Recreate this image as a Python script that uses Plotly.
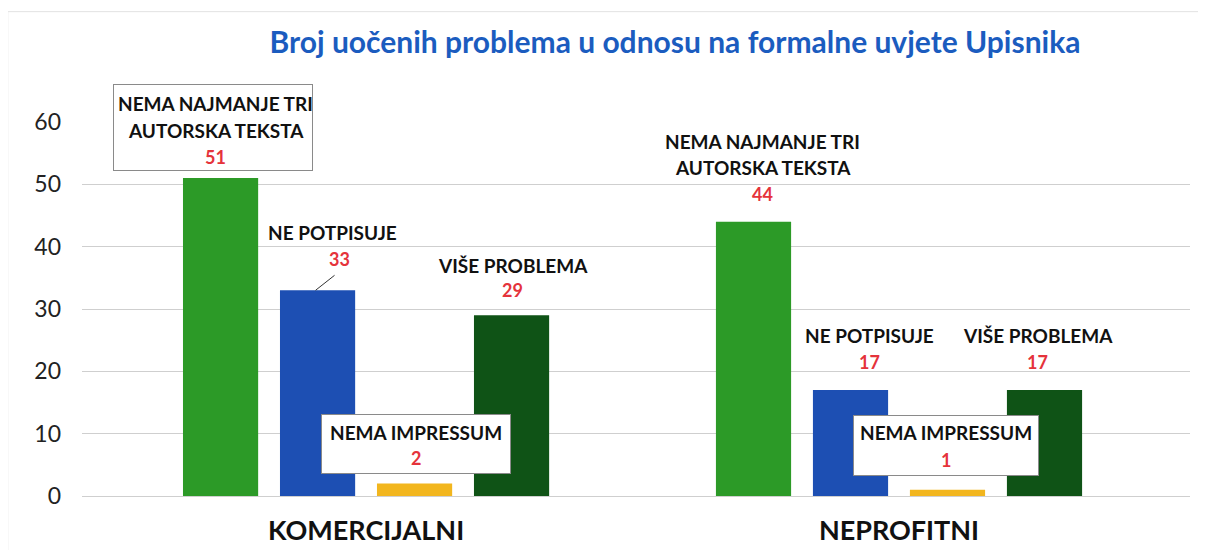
import plotly.graph_objects as go

categories = ["KOMERCIJALNI", "NEPROFITNI"]
series_names = ["NEMA NAJMANJE TRI AUTORSKA TEKSTA", "NE POTPISUJE", "NEMA IMPRESSUM", "VIŠE PROBLEMA"]
label_lines = [["NEMA NAJMANJE TRI", "AUTORSKA TEKSTA"], ["NE POTPISUJE"], ["NEMA IMPRESSUM"], ["VIŠE PROBLEMA"]]
nema_tri = [51, 44]
ne_potpisuje = [33, 17]
nema_impressum = [2, 1]
vise_problema = [29, 17]
values = [nema_tri, ne_potpisuje, nema_impressum, vise_problema]
y_ticks = [0, 10, 20, 30, 40, 50, 60]

colors = ["#2c9a27", "#1d4fb3", "#f2b61e", "#0f5316"]
RED = "#e5333b"
FONT = "Lato"

BARGAP = 0.272
GROUPGAP = 0.225
slot = (1 - BARGAP) / 4

fig = go.Figure()
for i, name in enumerate(series_names):
    fig.add_trace(go.Bar(x=categories, y=values[i], name=name, marker_color=colors[i],
                         marker_line_width=0, showlegend=False))

# label layout: (group, series) -> text xshift, line shifts above bar top (px), box (w, h, yshift, xshift)
label_style = {
    (0, 0): dict(dx=-5, shifts=[75, 48, 21], box=(200, 87, 51, -8)),
    (0, 1): dict(dx=15, vdx=22, shifts=[58, 31], box=None, leader=True),
    (0, 2): dict(dx=1, shifts=[51, 26], box=(190, 60, 40, 1)),
    (0, 3): dict(dx=1, shifts=[50, 25], box=None),
    (1, 0): dict(dx=9, shifts=[80, 54, 28], box=None),
    (1, 1): dict(dx=19, shifts=[55, 28], box=None),
    (1, 2): dict(dx=-2, shifts=[57, 30], box=(186, 61, 44, -2)),
    (1, 3): dict(dx=-7, shifts=[55, 28], box=None),
}

for g in range(len(categories)):
    for i in range(len(series_names)):
        v = values[i][g]
        xc = g + (i - 1.5) * slot
        st = label_style[(g, i)]
        if st["box"]:
            w, h, sh, bdx = st["box"]
            fig.add_annotation(x=xc, y=v, xref="x", yref="y", text=" ", showarrow=False,
                               width=w - 2, height=h - 2, bordercolor="#8a8a8a", borderwidth=1,
                               bgcolor="white", xshift=bdx, yshift=sh, borderpad=0)
        lines = label_lines[i] + [str(v)]
        for k, (txt, sh) in enumerate(zip(lines, st["shifts"])):
            is_val = k == len(lines) - 1
            fig.add_annotation(x=xc, y=v, xref="x", yref="y",
                               text=f"<b>{txt}</b>", showarrow=False,
                               font=dict(family=FONT, size=19 if not is_val else 18,
                                         color=RED if is_val else "#111111"),
                               xshift=st.get("vdx", st["dx"]) if is_val else st["dx"],
                               yshift=sh)
        if st.get("leader"):
            fig.add_shape(type="line", xref="x", yref="y", xsizemode="pixel", ysizemode="pixel",
                          xanchor=xc, yanchor=v, x0=-2, x1=17, y0=0, y1=15,
                          line=dict(color="#333333", width=1))

# faint outer frame of the scanned chart area
fig.add_shape(type="rect", xref="paper", yref="paper", x0=-0.067, x1=1.02, y0=-0.2, y1=1.295,
              line=dict(color="#e2e2e2", width=1), layer="below")

# the page body adds an 8px margin, so the figure is sized/offset to compensate
fig.update_layout(
    width=1190, height=542,
    margin=dict(l=74, r=8, t=114, b=54, autoexpand=False),
    paper_bgcolor="white", plot_bgcolor="white",
    barmode="group", bargap=BARGAP, bargroupgap=GROUPGAP,
    title=dict(text="<b>Broj uočenih problema u odnosu na formalne uvjete Upisnika</b>",
               x=667 / 1190, y=1 - 34 / 542, xref="container", yref="container",
               xanchor="center", yanchor="middle",
               font=dict(family=FONT, size=30, color="#1b5cbf")),
    xaxis=dict(range=[-0.533, 1.546], showgrid=False, showline=False, ticks="", automargin=False,
               tickfont=dict(family=FONT, size=27, color="#111111"),
               tickprefix="<b>", ticksuffix="</b>", ticklabelstandoff=16),
    yaxis=dict(range=[0, 60], tickvals=y_ticks, showgrid=True, gridcolor="#cfcfcf", gridwidth=1,
               zeroline=True, zerolinecolor="#cfcfcf", zerolinewidth=1, showline=False,
               automargin=False,
               tickfont=dict(family=FONT, size=23, color="#222222"), ticklabelstandoff=20),
    font=dict(family=FONT),
)

fig.write_html("out.html")
